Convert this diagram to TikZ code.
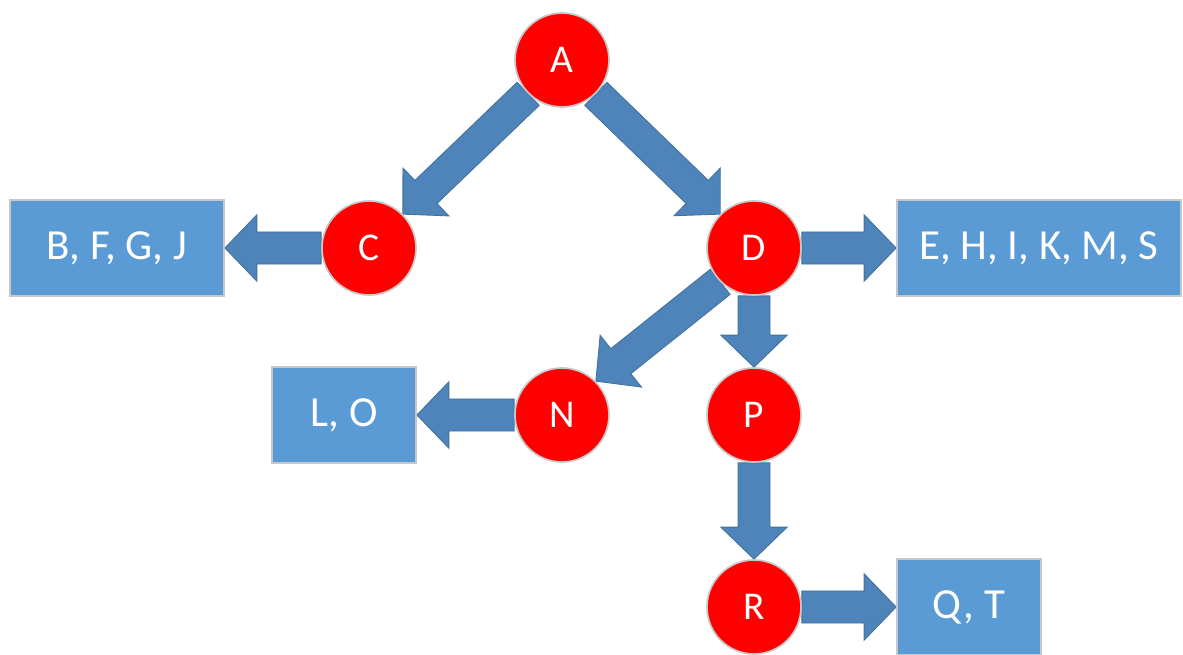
\documentclass[tikz,border=0pt]{standalone}
\usepackage{fontspec}
\setmainfont{Carlito}
\usetikzlibrary{calc,backgrounds}

\definecolor{nodered}{HTML}{FF0000}
\definecolor{ringgray}{HTML}{C8C8C8}
\definecolor{boxblue}{HTML}{5B9BD5}
\definecolor{arrowblue}{HTML}{4E84BA}
\definecolor{arrowedge}{HTML}{41719C}

\tikzset{
  vertex/.style={circle, fill=nodered, draw=ringgray, line width=1.2pt,
    minimum size=2.35cm, inner sep=0pt, text=white,
    font=\fontsize{28}{32}\selectfont},
  group/.style={rectangle, fill=boxblue, draw=ringgray, line width=1.2pt,
    minimum height=2.4cm, inner sep=0pt, text=white,
    font=\fontsize{30.5}{34}\selectfont},
  blockarrow/.style={fill=arrowblue, draw=arrowedge, line width=0.6pt,
    line join=miter},
}

% Thick block arrow from #1 to #2 (tip at #2)
\newcommand\blockarrow[2]{%
  \path (#1) coordinate (ba-s) (#2) coordinate (ba-e);
  \coordinate (ba-b) at ($(ba-e)!0.8cm!(ba-s)$);
  \draw[blockarrow]
    ($(ba-s)!0.4cm!90:(ba-e)$) -- ($(ba-b)!0.4cm!90:(ba-e)$)
    -- ($(ba-b)!0.83cm!90:(ba-e)$) -- (ba-e)
    -- ($(ba-b)!0.83cm!-90:(ba-e)$) -- ($(ba-b)!0.4cm!-90:(ba-e)$)
    -- ($(ba-s)!0.4cm!-90:(ba-e)$) -- cycle;
}

\begin{document}
\begin{tikzpicture}[x=0.025cm, y=-0.025cm]
  \useasboundingbox (0,0) rectangle (1183,655);

  % letter nodes
  \node[vertex] (A) at (562,60)  {A};
  \node[vertex] (C) at (369,248) {C};
  \node[vertex] (D) at (754,248) {D};
  \node[vertex] (N) at (562,415) {N};
  \node[vertex] (P) at (754,415) {P};
  \node[vertex] (R) at (754,607) {R};

  % grouped letters
  \node[group, minimum width=5.35cm] (bfgj) at (117,248)  {B, F, G, J};
  \node[group, minimum width=7.1cm]  (ehik) at (1039,248) {E, H, I, K, M, S};
  \node[group, minimum width=3.6cm]  (lo)   at (344,415)  {L, O};
  \node[group, minimum width=3.6cm]  (qt)   at (969,607)  {Q, T};

  % connectors
  \begin{pgfonlayer}{background}
    \blockarrow{A.south west}{C.north east}
    \blockarrow{A.south east}{D.north west}
    \blockarrow{C.west}{bfgj.east}
    \blockarrow{D.east}{ehik.west}
    \blockarrow{D.south west}{N.north east}
    \blockarrow{D.south}{P.north}
    \blockarrow{N.west}{lo.east}
    \blockarrow{P.south}{R.north}
    \blockarrow{R.east}{qt.west}
  \end{pgfonlayer}
\end{tikzpicture}
\end{document}
